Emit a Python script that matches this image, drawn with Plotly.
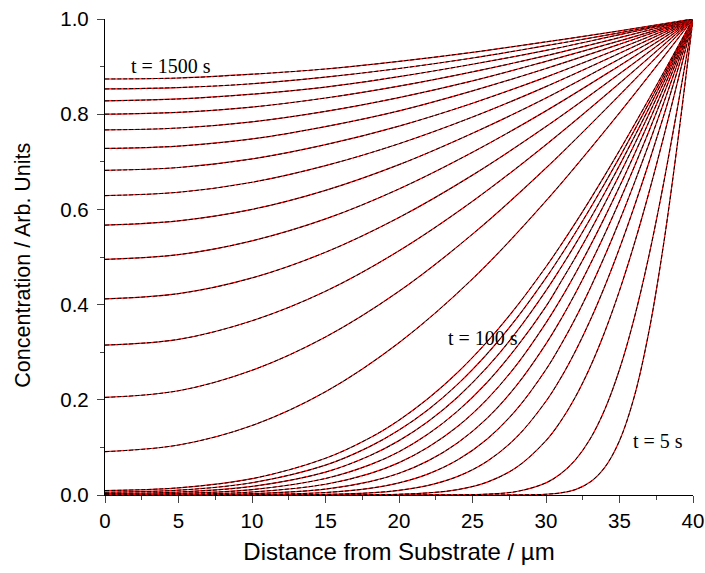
import plotly.graph_objects as go

# ---- long-time profiles (t = 200 ... 1500 s), sampled every 5 um ----
x_long = [0, 5, 10, 15, 20, 25, 30, 35, 40]
c_200 = [0.091, 0.105, 0.146, 0.217, 0.320, 0.454, 0.618, 0.803, 1.0]
c_300 = [0.205, 0.219, 0.262, 0.332, 0.428, 0.548, 0.687, 0.840, 1.0]
c_400 = [0.315, 0.327, 0.366, 0.428, 0.513, 0.617, 0.736, 0.865, 1.0]
c_500 = [0.412, 0.423, 0.456, 0.510, 0.583, 0.672, 0.774, 0.885, 1.0]
c_600 = [0.495, 0.505, 0.534, 0.580, 0.643, 0.720, 0.807, 0.902, 1.0]
c_700 = [0.567, 0.576, 0.600, 0.640, 0.694, 0.760, 0.834, 0.916, 1.0]
c_800 = [0.629, 0.636, 0.657, 0.692, 0.738, 0.794, 0.858, 0.928, 1.0]
c_900 = [0.682, 0.688, 0.706, 0.736, 0.775, 0.823, 0.878, 0.938, 1.0]
c_1000 = [0.728, 0.733, 0.748, 0.774, 0.807, 0.849, 0.896, 0.947, 1.0]
c_1100 = [0.767, 0.771, 0.784, 0.806, 0.835, 0.870, 0.911, 0.954, 1.0]
c_1200 = [0.800, 0.804, 0.815, 0.834, 0.859, 0.889, 0.923, 0.961, 1.0]
c_1300 = [0.828, 0.832, 0.842, 0.857, 0.879, 0.905, 0.934, 0.967, 1.0]
c_1400 = [0.853, 0.856, 0.864, 0.878, 0.896, 0.918, 0.944, 0.971, 1.0]
c_1500 = [0.874, 0.876, 0.884, 0.895, 0.911, 0.930, 0.952, 0.975, 1.0]

# ---- short-time profiles (t = 5 ... 100 s), denser near the surface ----
x_short = [0, 5, 10, 15, 18, 20, 22, 24, 26, 28, 30, 31, 32, 33, 34, 35, 36, 37, 38, 39, 40]
c_5 = [0, 0, 0, 0, 0, 0, 0, 0, 0, 0.0002, 0.0016, 0.0045, 0.0114, 0.0271, 0.0582, 0.1142, 0.2060, 0.3430, 0.5270, 0.7518, 1.0]
c_10 = [0, 0, 0, 0, 0, 0, 0.0001, 0.0003, 0.0018, 0.0073, 0.0255, 0.0445, 0.0740, 0.1177, 0.1798, 0.2636, 0.3712, 0.5024, 0.6547, 0.8232, 1.0]
c_20 = [0, 0, 0, 0.0001, 0.0005, 0.0016, 0.0045, 0.0114, 0.0271, 0.0582, 0.1142, 0.1549, 0.2060, 0.2685, 0.3430, 0.4293, 0.5270, 0.6350, 0.7518, 0.8745, 1.0]
c_30 = [0, 0, 0.0001, 0.0013, 0.0045, 0.0099, 0.0203, 0.0391, 0.0710, 0.1215, 0.1970, 0.2455, 0.3022, 0.3665, 0.4387, 0.5186, 0.6056, 0.6984, 0.7960, 0.8973, 1.0]
c_40 = [0, 0.0001, 0.0008, 0.0052, 0.0140, 0.0255, 0.0445, 0.0740, 0.1177, 0.1798, 0.2636, 0.3146, 0.3712, 0.4340, 0.5024, 0.5761, 0.6547, 0.7374, 0.8232, 0.9108, 1.0]
c_50 = [0.0001, 0.0005, 0.0027, 0.0125, 0.0280, 0.0456, 0.0722, 0.1100, 0.1615, 0.2303, 0.3176, 0.3683, 0.4238, 0.4841, 0.5485, 0.6172, 0.6891, 0.7640, 0.8416, 0.9203, 1.0]
c_60 = [0.0005, 0.0015, 0.0063, 0.0226, 0.0449, 0.0680, 0.1009, 0.1443, 0.2014, 0.2735, 0.3617, 0.4114, 0.4654, 0.5228, 0.5838, 0.6479, 0.7150, 0.7841, 0.8551, 0.9272, 1.0]
c_70 = [0.0015, 0.0033, 0.0113, 0.0347, 0.0632, 0.0910, 0.1285, 0.1767, 0.2369, 0.3106, 0.3963, 0.4470, 0.4990, 0.5541, 0.6122, 0.6726, 0.7354, 0.7997, 0.8659, 0.9326, 1.0]
c_80 = [0.0032, 0.0062, 0.0180, 0.0481, 0.0824, 0.1142, 0.1549, 0.2060, 0.2685, 0.3430, 0.4293, 0.4769, 0.5270, 0.5798, 0.6350, 0.6925, 0.7518, 0.8127, 0.8745, 0.9370, 1.0]
c_90 = [0.0058, 0.0101, 0.0258, 0.0628, 0.1017, 0.1365, 0.1798, 0.2330, 0.2967, 0.3712, 0.4561, 0.5024, 0.5510, 0.6019, 0.6547, 0.7094, 0.7655, 0.8232, 0.8814, 0.9406, 1.0]
c_100 = [0.0094, 0.0151, 0.0343, 0.0772, 0.1198, 0.1573, 0.2031, 0.2579, 0.3222, 0.3961, 0.4795, 0.5245, 0.5716, 0.6206, 0.6714, 0.7237, 0.7773, 0.8320, 0.8875, 0.9436, 1.0]

long_curves = [c_200, c_300, c_400, c_500, c_600, c_700, c_800, c_900,
               c_1000, c_1100, c_1200, c_1300, c_1400, c_1500]
short_curves = [c_5, c_10, c_20, c_30, c_40, c_50, c_60, c_70, c_80, c_90, c_100]

# ---- labels ----
label_texts = ["t = 1500 s", "t = 100 s", "t = 5 s"]
label_x = [1.6, 23.2, 35.75]
label_y = [0.901, 0.330, 0.114]
x_title = "Distance from Substrate / \u00b5m"
y_title = "Concentration / Arb. Units"

SANS = "Liberation Sans, Arial, sans-serif"
SERIF = "Liberation Serif, Times New Roman, serif"

fig = go.Figure()


def add_profile(xs, ys):
    fig.add_trace(go.Scatter(x=xs, y=ys, mode="lines",
                             line=dict(color="#ff0000", width=1.2, shape="spline", smoothing=1.0),
                             hoverinfo="skip", showlegend=False))
    fig.add_trace(go.Scatter(x=xs, y=ys, mode="lines",
                             line=dict(color="#000000", width=1.0, dash="4px,2px", shape="spline", smoothing=1.0),
                             showlegend=False))


for ys in long_curves:
    add_profile(x_long, ys)
for ys in short_curves:
    add_profile(x_short, ys)

for txt, lx, ly in zip(label_texts, label_x, label_y):
    fig.add_annotation(x=lx, y=ly, text=txt, showarrow=False, xanchor="left", yanchor="middle",
                       font=dict(family=SERIF, size=20, color="black"))

# y-axis title placed as rotated text (sits slightly below the plot centre in the original)
fig.add_annotation(xref="paper", yref="paper", x=-0.141, y=0.482, text=y_title, textangle=-90,
                   showarrow=False, xanchor="center", yanchor="middle",
                   font=dict(family=SANS, size=21.5, color="black"))

fig.update_layout(
    width=705, height=573,
    margin=dict(l=105, r=12, t=19, b=78),
    paper_bgcolor="white", plot_bgcolor="white",
    font=dict(family=SANS, color="black"),
)
fig.update_xaxes(
    automargin=False,
    range=[0, 40], tick0=0, dtick=5, ticks="outside", ticklen=7, tickwidth=1.3,
    showline=True, linecolor="black", linewidth=1.3, showgrid=False, zeroline=False,
    minor=dict(dtick=2.5, ticks="outside", ticklen=4, tickwidth=1.3, showgrid=False),
    tickfont=dict(family=SANS, size=20.5),
    title=dict(text=x_title, font=dict(family=SANS, size=24), standoff=12),
)
fig.update_yaxes(
    automargin=False,
    range=[0, 1.0], tick0=0, dtick=0.2, tickformat=".1f", ticks="outside", ticklen=7, tickwidth=1.3,
    ticklabelstandoff=4,
    showline=True, linecolor="black", linewidth=1.3, showgrid=False, zeroline=False,
    minor=dict(dtick=0.1, ticks="outside", ticklen=4, tickwidth=1.3, showgrid=False),
    tickfont=dict(family=SANS, size=20.5),
)

fig.write_html("out.html")
